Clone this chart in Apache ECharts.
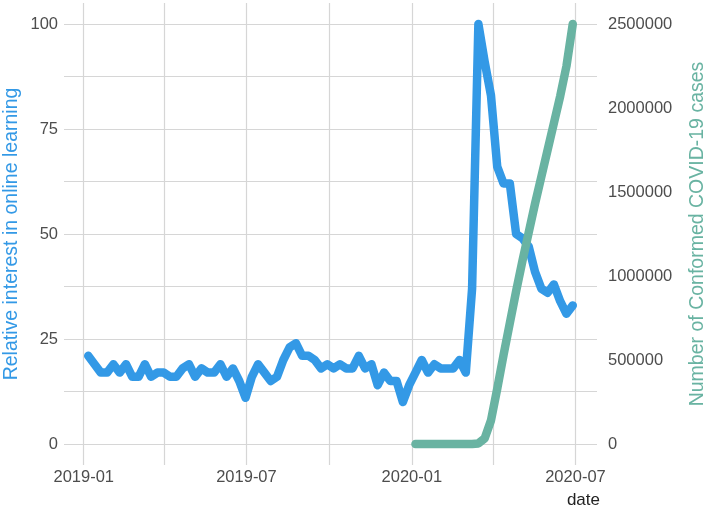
<!DOCTYPE html>
<html>
<head>
<meta charset="utf-8">
<script src="https://cdn.jsdelivr.net/npm/echarts@6/dist/echarts.min.js"></script>
<style>html,body{margin:0;padding:0;background:#fff;}#c{width:709px;height:510px;}</style>
</head>
<body>
<div id="c"></div>
<script>
// weekly dates (Sundays)
const dates = [
 '2019-01-06','2019-01-13','2019-01-20','2019-01-27','2019-02-03','2019-02-10','2019-02-17','2019-02-24',
 '2019-03-03','2019-03-10','2019-03-17','2019-03-24','2019-03-31','2019-04-07','2019-04-14','2019-04-21','2019-04-28',
 '2019-05-05','2019-05-12','2019-05-19','2019-05-26','2019-06-02','2019-06-09','2019-06-16','2019-06-23','2019-06-30',
 '2019-07-07','2019-07-14','2019-07-21','2019-07-28','2019-08-04','2019-08-11','2019-08-18','2019-08-25',
 '2019-09-01','2019-09-08','2019-09-15','2019-09-22','2019-09-29','2019-10-06','2019-10-13','2019-10-20','2019-10-27',
 '2019-11-03','2019-11-10','2019-11-17','2019-11-24','2019-12-01','2019-12-08','2019-12-15','2019-12-22','2019-12-29',
 '2020-01-05','2020-01-12','2020-01-19','2020-01-26','2020-02-02','2020-02-09','2020-02-16','2020-02-23',
 '2020-03-01','2020-03-08','2020-03-15','2020-03-22','2020-03-29','2020-04-05','2020-04-12','2020-04-19','2020-04-26',
 '2020-05-03','2020-05-10','2020-05-17','2020-05-24','2020-05-31','2020-06-07','2020-06-14','2020-06-21','2020-06-28'
];
// relative interest in online learning
const interest = [
 21,19,17,17,19,17,19,16,16,19,
 16,17,17,16,16,18,19,16,18,17,
 17,19,16,18,15,11,16,19,17,15,
 16,20,23,24,21,21,20,18,19,18,
 19,18,18,21,18,19,14,17,15,15,
 10,14,17,20,17,19,18,18,18,20,
 17,37,100,91,83,66,62,62,50,49,
 47,41,37,36,38,34,31,33
];
// confirmed COVID-19 cases (from 2020-01-05)
const caseDates = [
 '2020-01-05','2020-01-12','2020-01-19','2020-01-26','2020-02-02','2020-02-09','2020-02-16','2020-02-23',
 '2020-03-01','2020-03-08','2020-03-15','2020-03-22','2020-03-29','2020-04-05','2020-04-12','2020-04-19','2020-04-26',
 '2020-05-03','2020-05-10','2020-05-17','2020-05-24','2020-05-31','2020-06-07','2020-06-14','2020-06-21','2020-06-28'
];
const cases = [
 0,0,0,5,8,11,15,15,
 70,540,3500,33000,140000,330000,530000,720000,910000,
 1090000,1260000,1430000,1590000,1750000,1910000,2070000,2250000,2500000
];
// axis ticks
const leftTicks = [0,25,50,75,100];
const leftMinor = [12.5,37.5,62.5,87.5];
const rightTicks = [0,500000,1000000,1500000,2000000,2500000];
const xTicks = ['2019-01-01','2019-07-01','2020-01-01','2020-07-01'];
const xTickLabels = ['2019-01','2019-07','2020-01','2020-07'];
const xMinor = ['2019-04-01','2019-10-01','2020-04-01'];

const BLUE = '#3399e6', GREEN = '#69b3a2', GRID = '#d6d6d6', TXT = '#4d4d4d';
const FONT = '"Liberation Sans Narrow","Arial Narrow","Liberation Sans",Arial,sans-serif';

const t0 = echarts.time.parse(dates[0]).getTime();
const t1 = echarts.time.parse(dates[dates.length-1]).getTime();
const pad = (t1 - t0) * 0.05;

const tickLabel = {show:true, color:TXT, fontSize:16.5, fontFamily:FONT};

const gridLines = [];
leftTicks.forEach(v => gridLines.push({yAxis:v, name:String(v), label:Object.assign({position:'start', distance:6, formatter:'{b}'}, tickLabel)}));
leftMinor.forEach(v => gridLines.push({yAxis:v, label:{show:false}}));
xTicks.forEach((d,i) => gridLines.push({xAxis:d, name:xTickLabels[i], label:Object.assign({position:'start', distance:4, formatter:'{b}'}, tickLabel)}));
xMinor.forEach(d => gridLines.push({xAxis:d, label:{show:false}}));

const rightLines = rightTicks.map(v => ({yAxis:v, name:String(v), label:Object.assign({position:'end', distance:11, formatter:'{b}'}, tickLabel)}));

const chart = echarts.init(document.getElementById('c'));
chart.setOption({
  animation:false,
  backgroundColor:'#fff',
  textStyle:{fontFamily:FONT},
  title:{text:'date', right:109, top:492, padding:0, textStyle:{color:'#222', fontSize:17, fontWeight:'normal', fontFamily:FONT}},
  grid:{left:64, right:112, top:3, bottom:45, outerBoundsMode:'none', containLabel:false},
  xAxis:{type:'time', min:t0-pad, max:t1+pad, axisLine:{show:false}, axisTick:{show:false}, axisLabel:{show:false}, splitLine:{show:false}},
  yAxis:[
    {type:'value', min:-5, max:105, name:'Relative interest in online learning', nameLocation:'middle', nameGap:42,
     nameTextStyle:{color:BLUE, fontSize:19.5, fontFamily:FONT},
     axisLine:{show:false}, axisTick:{show:false}, axisLabel:{show:false}, splitLine:{show:false}},
    {type:'value', min:-125000, max:2625000, position:'right', name:'Number of Conformed COVID-19 cases', nameGap:91, nameLocation:'middle',
     nameTextStyle:{color:GREEN, fontSize:19.5, fontFamily:FONT},
     axisLine:{show:false}, axisTick:{show:false}, axisLabel:{show:false}, splitLine:{show:false}}
  ],
  series:[
    {type:'line', yAxisIndex:0, z:10, showSymbol:false, symbol:'none',
     data:dates.map((d,i)=>[d, interest[i]]),
     lineStyle:{color:BLUE, width:8.5, cap:'round', join:'round'},
     markLine:{silent:true, symbol:'none', animation:false, lineStyle:{color:GRID, width:1.2, type:'solid'}, emphasis:{disabled:true}, data:gridLines}},
    {type:'line', yAxisIndex:1, z:10, showSymbol:false, symbol:'none',
     data:caseDates.map((d,i)=>[d, cases[i]]),
     lineStyle:{color:GREEN, width:8.5, cap:'round', join:'round'},
     markLine:{silent:true, symbol:'none', animation:false, lineStyle:{color:'rgba(0,0,0,0)', width:1}, emphasis:{disabled:true}, data:rightLines}}
  ]
});
</script>
</body>
</html>
